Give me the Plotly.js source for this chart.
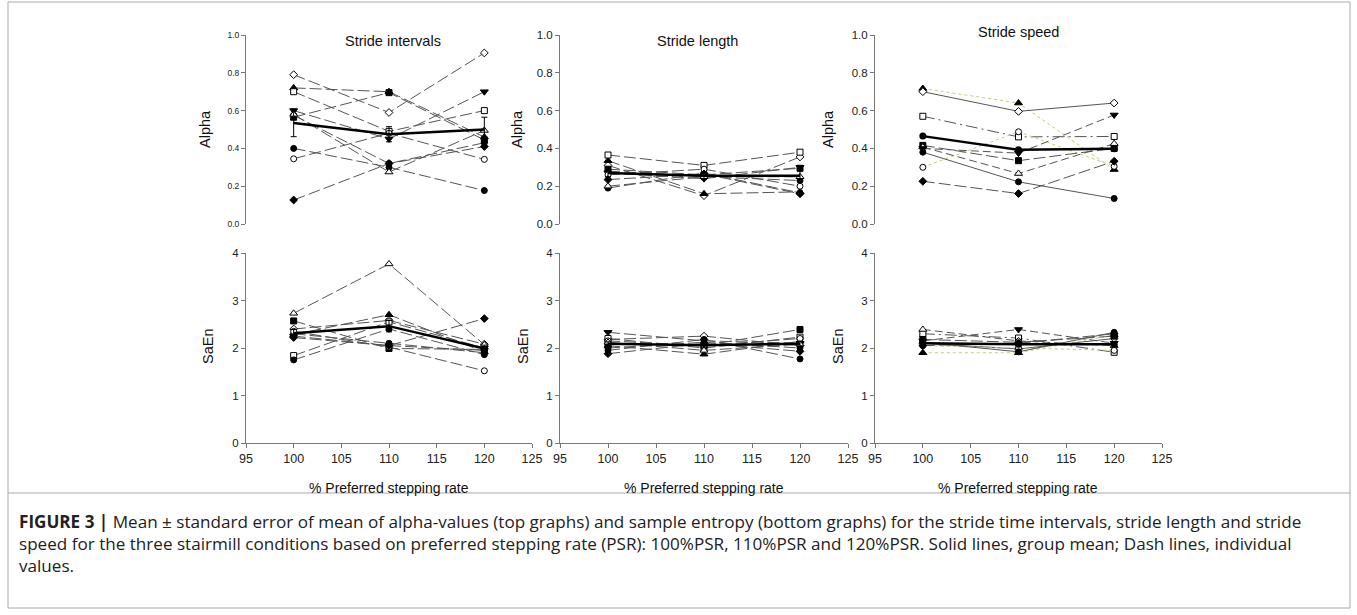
<!DOCTYPE html>
<html>
<head>
<meta charset="utf-8">
<script src="https://cdn.plot.ly/plotly-3.0.1.min.js"></script>
<style>html,body{margin:0;padding:0;background:#fff;}#chart{width:1357px;height:615px;}</style>
</head>
<body>
<div id="chart"></div>
<script>
// ---------- DATA ----------
const psr = [100, 110, 120];
const xTicks = [95, 100, 105, 110, 115, 120, 125];

// Stride intervals - alpha (10 participants)
const intervalsAlpha = [
  [0.79, 0.59, 0.905], [0.72, 0.70, 0.46], [0.70, 0.49, 0.60], [0.60, 0.45, 0.70], [0.565, 0.695, 0.445],
  [0.575, 0.32, 0.43], [0.40, 0.30, 0.177], [0.345, 0.48, 0.342], [0.127, 0.32, 0.41], [0.58, 0.275, 0.495]
];
const intervalsAlphaMean = [0.535, 0.475, 0.50];
const intervalsAlphaSE = [0.073, 0.04, 0.065];

// Stride intervals - SaEn
const intervalsSaEn = [
  [2.40, 2.58, 2.08], [2.28, 2.70, 1.92], [1.84, 2.55, 2.00], [2.25, 2.05, 1.95], [2.57, 1.99, 1.97],
  [2.30, 2.10, 1.90], [1.75, 2.40, 1.86], [2.35, 2.02, 1.52], [2.22, 2.05, 2.62], [2.73, 3.77, 2.07]
];
const intervalsSaEnMean = [2.31, 2.46, 1.99];
const intervalsSaEnSE = [0.08, 0.12, 0.07];

// Stride length - alpha
const lengthAlpha = [
  [0.31, 0.15, 0.355], [0.335, 0.16, 0.17], [0.365, 0.31, 0.38], [0.27, 0.24, 0.30], [0.29, 0.26, 0.295],
  [0.19, 0.27, 0.165], [0.28, 0.25, 0.23], [0.26, 0.29, 0.20], [0.235, 0.265, 0.16], [0.20, 0.25, 0.25]
];
const lengthAlphaMean = [0.27, 0.255, 0.255];
const lengthAlphaSE = [0.02, 0.02, 0.025];

// Stride length - SaEn
const lengthSaEn = [
  [2.18, 2.25, 2.05], [2.05, 1.87, 2.14], [2.20, 2.00, 2.23], [2.33, 2.15, 2.10], [2.10, 2.05, 2.39],
  [1.95, 2.18, 1.77], [2.00, 2.12, 2.00], [2.15, 2.05, 2.20], [1.88, 2.10, 1.93], [2.12, 1.95, 2.08]
];
const lengthSaEnMean = [2.09, 2.06, 2.09];
const lengthSaEnSE = [0.04, 0.04, 0.05];

// Stride speed - alpha (9 participants)
const speedAlpha = [
  [0.717, 0.64, 0.288], [0.70, 0.596, 0.64], [0.57, 0.461, 0.463], [0.30, 0.488, 0.305], [0.416, 0.335, 0.40],
  [0.407, 0.267, 0.425], [0.40, 0.375, 0.577], [0.38, 0.223, 0.135], [0.226, 0.161, 0.332]
];
const speedAlphaMean = [0.465, 0.393, 0.398];

// Stride speed - SaEn
const speedSaEn = [
  [1.90, 1.90, 2.28], [2.10, 1.98, 2.20], [2.30, 2.21, 1.91], [2.05, 2.00, 1.95], [2.18, 2.12, 2.25],
  [2.39, 2.15, 2.05], [2.15, 2.39, 2.10], [2.12, 1.92, 2.33], [2.05, 2.10, 2.30]
];
const speedSaEnMean = [2.10, 2.08, 2.08];

const panelTitles = ["Stride intervals", "Stride length", "Stride speed"];
const yTitleTop = "Alpha", yTitleBottom = "SaEn";
const xTitle = "% Preferred stepping rate";
const captionLines = [
  "<b>FIGURE 3 |</b> Mean ± standard error of mean of alpha-values (top graphs) and sample entropy (bottom graphs) for the stride time intervals, stride length and stride",
  "speed for the three stairmill conditions based on preferred stepping rate (PSR): 100%PSR, 110%PSR and 120%PSR. Solid lines, group mean; Dash lines, individual",
  "values."
];

// ---------- STYLES ----------
const W = 1357, H = 615;
const px = v => v / W, py = v => 1 - v / H;
const FONT = "Liberation Sans, Arial, sans-serif";

// markers for the 10-participant panels: [symbol, filled]
const markA = [
  ["diamond", false], ["triangle-up", true], ["square", false], ["triangle-down", true], ["square", true],
  ["circle", true], ["circle", true], ["circle", false], ["diamond", true], ["triangle-up", false]
];
// markers + line styles for speed panels
const OLIVE = "#c9c77e";
const markS = [
  ["triangle-up", true, "dot", OLIVE], ["diamond", false, "solid", "#555"], ["square", false, "12px,4px,2px,4px", "#555"],
  ["circle", false, "dot", OLIVE], ["square", true, "12px,4px", "#555"], ["triangle-up", false, "8px,4px", "#555"],
  ["triangle-down", true, "8px,4px", "#555"], ["circle", true, "solid", "#555"], ["diamond", true, "12px,4px", "#555"]
];

const traces = [];
function addIndiv(rows, xa, ya, speed) {
  rows.forEach((r, i) => {
    const m = speed ? markS[i] : markA[i];
    traces.push({
      x: psr, y: r, xaxis: xa, yaxis: ya, mode: "lines+markers", type: "scatter", showlegend: false,
      line: { color: speed ? m[3] : "#555", width: 1, dash: speed ? m[2] : "12px,4px" },
      marker: { symbol: m[0], size: m[0].startsWith("triangle") ? 7 : 6, color: m[1] ? "#000" : "#fff", line: { color: "#000", width: 1 } },
      hoverinfo: "skip"
    });
  });
}
function addMean(mean, se, xa, ya, markers) {
  const t = {
    x: psr, y: mean, xaxis: xa, yaxis: ya, type: "scatter", showlegend: false,
    mode: markers ? "lines+markers" : "lines",
    line: { color: "#000", width: 2.5 },
    marker: { symbol: "circle", size: 7, color: "#000" },
    hoverinfo: "skip"
  };
  if (se) t.error_y = { type: "data", array: se, visible: true, color: "#000", thickness: 1, width: 3 };
  traces.push(t);
}
addIndiv(intervalsAlpha, "x", "y", false); addMean(intervalsAlphaMean, intervalsAlphaSE, "x", "y", false);
addIndiv(lengthAlpha, "x2", "y2", false); addMean(lengthAlphaMean, lengthAlphaSE, "x2", "y2", false);
addIndiv(speedAlpha, "x3", "y3", true); addMean(speedAlphaMean, null, "x3", "y3", true);
addIndiv(intervalsSaEn, "x4", "y4", false); addMean(intervalsSaEnMean, intervalsSaEnSE, "x4", "y4", false);
addIndiv(lengthSaEn, "x5", "y5", false); addMean(lengthSaEnMean, lengthSaEnSE, "x5", "y5", false);
addIndiv(speedSaEn, "x6", "y6", true); addMean(speedSaEnMean, null, "x6", "y6", true);

const colX = [[246, 532], [560, 848], [875, 1162]];
const topY = [35, 224], botY = [253, 443];
const axCol = "#777";

const layout = {
  width: W, height: H, margin: { l: 0, r: 0, t: 0, b: 0 },
  paper_bgcolor: "#fff", plot_bgcolor: "rgba(0,0,0,0)", showlegend: false,
  font: { family: FONT, color: "#222" },
  annotations: [], shapes: []
};
for (let c = 0; c < 3; c++) {
  const dom = [px(colX[c][0]), px(colX[c][1])];
  const iTop = c + 1, iBot = c + 4;
  const kx = n => n === 1 ? "xaxis" : "xaxis" + n;
  const ky = n => n === 1 ? "yaxis" : "yaxis" + n;
  layout[kx(iTop)] = { domain: dom, range: [95, 125], visible: false, fixedrange: true };
  layout[kx(iBot)] = {
    domain: dom, range: [95, 125], tickvals: xTicks, ticks: "outside", ticklen: 4, tickcolor: axCol,
    showline: true, linecolor: axCol, linewidth: 1, showgrid: false, zeroline: false,
    tickfont: { size: 12.5, family: FONT, color: "#222" }, anchor: "y" + iBot
  };
  layout[ky(iTop)] = {
    domain: [py(topY[1]), py(topY[0])], range: [0, 1], dtick: 0.2, tickformat: ".1f",
    ticks: "outside", ticklen: 4, tickcolor: axCol, showline: true, linecolor: axCol, linewidth: 1,
    showgrid: false, zeroline: false, anchor: "x" + (iTop === 1 ? "" : iTop),
    tickfont: { size: c === 0 ? 8.5 : 11.5, family: FONT, color: "#222" }
  };
  layout[ky(iBot)] = {
    domain: [py(botY[1]), py(botY[0])], range: [0, 4], dtick: 1,
    ticks: "outside", ticklen: 4, tickcolor: axCol, showline: true, linecolor: axCol, linewidth: 1,
    showgrid: false, zeroline: false, anchor: "x" + iBot,
    tickfont: { size: 11.5, family: FONT, color: "#222" }
  };
}
layout.yaxis.anchor = "x";

function ann(text, x, y, size, opts) {
  layout.annotations.push(Object.assign({
    text: text, x: px(x), y: py(y), xref: "paper", yref: "paper", showarrow: false,
    xanchor: "center", yanchor: "middle", font: { size: size, family: FONT, color: "#111" }
  }, opts || {}));
}
ann(panelTitles[0], 393, 41, 14.5);
ann(panelTitles[1], 697, 41, 14.5);
ann(panelTitles[2], 1018, 32, 14.5);
[205, 517, 828].forEach(x => ann(yTitleTop, x, 129, 14.5, { textangle: -90 }));
[208, 523, 838].forEach(x => ann(yTitleBottom, x, 347, 14.5, { textangle: -90 }));
[389, 704, 1018].forEach(x => ann(xTitle, x, 488, 14));
const CAPFONT = "Open Sans, Liberation Sans, sans-serif";
[521, 543, 565].forEach((y, i) => ann(captionLines[i], 17, y, 17.1, { xanchor: "left", font: { size: 17.1, family: CAPFONT, color: "#222" } }));

// frame
layout.shapes.push({ type: "rect", xref: "paper", yref: "paper", x0: px(8), x1: px(1350), y0: py(608), y1: py(2), line: { color: "#aaa", width: 1 } });
layout.shapes.push({ type: "line", xref: "paper", yref: "paper", x0: px(8), x1: px(1350), y0: py(493), y1: py(493), line: { color: "#aaa", width: 1 } });

Plotly.newPlot("chart", traces, layout, { staticPlot: true, displayModeBar: false });
</script>
</body>
</html>
